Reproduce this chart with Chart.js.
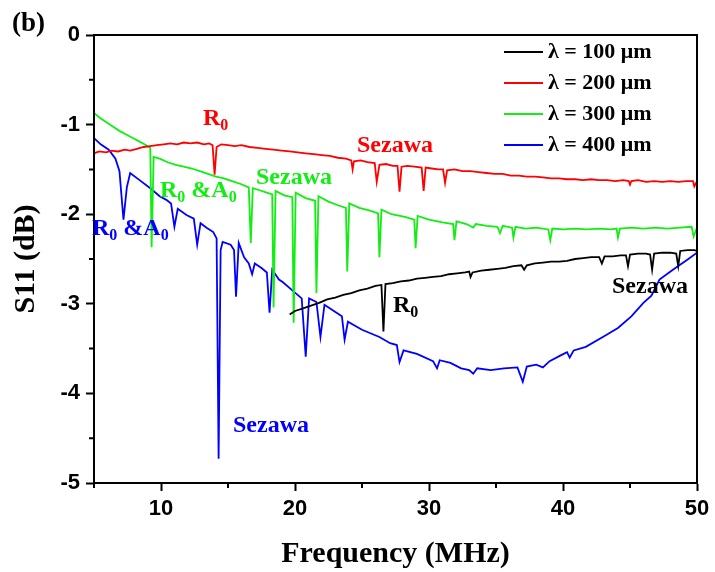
<!DOCTYPE html>
<html>
<head>
<meta charset="utf-8">
<script src="https://cdn.jsdelivr.net/npm/chart.js@4.4.1/dist/chart.umd.min.js"></script>
<style>
  html, body { margin: 0; padding: 0; background: #fff; }
</style>
</head>
<body>
<canvas id="chart" width="715" height="572"></canvas>
<script>
// S11 vs frequency, four wavelengths

const xTicks = [10, 20, 30, 40, 50];
const yTicks = [0, -1, -2, -3, -4, -5];
const xMinor = [5, 15, 25, 35, 45];
const yMinor = [-0.5, -1.5, -2.5, -3.5, -4.5];

const labels = ['λ = 100 μm', 'λ = 200 μm', 'λ = 300 μm', 'λ = 400 μm'];
const colors = ['#000000', '#ff0000', '#11ee11', '#0000ff'];

// λ = 100 μm
const f100 = [19.6,20.0,20.6,21.2,21.8,22.4,23.0,23.6,24.2,24.8,25.4,26.0,26.45,26.6,26.75,27.3,27.9,28.5,29.1,29.7,
  30.3,30.9,31.5,32.1,32.7,33.0,33.1,33.25,33.9,34.5,35.1,35.7,36.3,36.9,37.1,37.3,37.9,38.5,39.1,39.7,
  40.3,40.9,41.5,42.1,42.7,42.9,43.1,43.7,44.3,44.7,44.85,45.0,45.6,46.2,46.5,46.65,46.8,47.4,48.0,48.45,
  48.6,48.75,49.3,49.8,50.0];
const s100 = [-3.12,-3.08,-3.05,-3.02,-2.99,-2.95,-2.93,-2.90,-2.88,-2.85,-2.83,-2.80,-2.79,-3.31,-2.78,-2.77,-2.75,-2.74,-2.72,-2.71,
  -2.70,-2.69,-2.67,-2.66,-2.65,-2.64,-2.70,-2.65,-2.63,-2.62,-2.61,-2.60,-2.58,-2.57,-2.62,-2.57,-2.55,-2.54,-2.53,-2.53,
  -2.52,-2.50,-2.49,-2.48,-2.48,-2.55,-2.47,-2.47,-2.46,-2.46,-2.58,-2.45,-2.44,-2.44,-2.45,-2.62,-2.44,-2.43,-2.43,-2.44,
  -2.58,-2.41,-2.40,-2.40,-2.41];

// λ = 200 μm
const f200 = [5.0,5.4,5.9,6.3,6.8,7.3,7.7,8.2,8.7,9.2,9.7,10.2,10.7,11.2,11.7,12.2,12.7,13.2,13.6,13.85,
  14.0,14.15,14.5,15.0,15.5,16.0,16.6,17.2,17.8,18.4,19.0,19.6,20.2,20.8,21.4,22.0,22.6,23.2,23.8,24.2,
  24.3,24.4,24.9,25.4,25.95,26.1,26.3,26.8,27.3,27.65,27.8,27.95,28.4,28.9,29.45,29.6,29.75,30.2,30.7,31.05,
  31.2,31.35,31.9,32.5,33.1,33.7,34.3,34.9,35.5,36.1,36.7,37.3,37.9,38.5,39.1,39.7,40.3,40.9,41.5,42.1,
  42.7,43.3,43.9,44.5,44.9,45.0,45.1,45.6,46.2,46.8,47.4,48.0,48.6,49.2,49.7,49.8,50.0];
const s200 = [-1.32,-1.30,-1.31,-1.29,-1.30,-1.28,-1.29,-1.27,-1.25,-1.24,-1.23,-1.22,-1.21,-1.22,-1.20,-1.21,-1.20,-1.22,-1.21,-1.23,
  -1.56,-1.25,-1.22,-1.23,-1.24,-1.23,-1.25,-1.26,-1.27,-1.28,-1.29,-1.30,-1.31,-1.32,-1.33,-1.34,-1.35,-1.37,-1.38,-1.40,
  -1.50,-1.41,-1.40,-1.42,-1.43,-1.64,-1.45,-1.44,-1.46,-1.46,-1.75,-1.47,-1.46,-1.47,-1.48,-1.74,-1.48,-1.49,-1.50,-1.50,
  -1.65,-1.51,-1.50,-1.52,-1.52,-1.53,-1.54,-1.55,-1.55,-1.57,-1.57,-1.58,-1.58,-1.59,-1.60,-1.60,-1.61,-1.61,-1.62,-1.61,
  -1.62,-1.62,-1.63,-1.62,-1.63,-1.67,-1.63,-1.62,-1.64,-1.63,-1.64,-1.63,-1.64,-1.63,-1.63,-1.69,-1.63];

// λ = 300 μm
const f300 = [5.0,5.4,5.9,6.4,6.9,7.4,7.9,8.4,8.9,9.2,9.3,9.45,9.9,10.5,11.1,11.7,12.3,12.9,13.5,14.1,
  14.7,15.3,15.9,16.55,16.7,16.85,17.3,17.9,18.3,18.4,18.55,19.2,19.8,19.9,20.05,20.8,21.5,21.6,21.75,22.5,
  23.2,23.8,23.9,24.05,24.8,25.6,26.2,26.3,26.45,27.2,28.2,28.9,29.0,29.15,30.0,31.0,31.8,31.9,32.05,32.8,
  33.3,33.5,34.3,35.1,35.3,35.5,36.2,36.3,36.45,37.2,38.0,38.9,39.05,39.2,40.0,40.9,41.8,42.7,43.6,44.0,
  44.1,44.25,45.1,46.0,46.9,47.8,48.7,49.6,49.75,50.0];
const s300 = [-0.87,-0.92,-0.97,-1.02,-1.07,-1.11,-1.15,-1.19,-1.23,-1.26,-2.37,-1.36,-1.38,-1.42,-1.45,-1.47,-1.49,-1.52,-1.55,-1.58,
  -1.60,-1.63,-1.66,-1.70,-2.32,-1.71,-1.73,-1.76,-1.78,-3.04,-1.74,-1.79,-1.81,-3.21,-1.76,-1.82,-1.85,-2.88,-1.80,-1.86,
  -1.90,-1.93,-2.64,-1.88,-1.93,-1.96,-1.99,-2.48,-1.95,-2.00,-2.03,-2.06,-2.38,-2.02,-2.06,-2.09,-2.11,-2.29,-2.08,-2.11,
  -2.15,-2.11,-2.13,-2.14,-2.21,-2.13,-2.15,-2.26,-2.14,-2.16,-2.15,-2.17,-2.29,-2.16,-2.17,-2.16,-2.17,-2.16,-2.17,-2.16,
  -2.26,-2.16,-2.15,-2.16,-2.15,-2.16,-2.15,-2.14,-2.25,-2.15];

// λ = 400 μm
const f400 = [5.0,5.5,6.1,6.6,6.9,7.2,7.45,7.7,8.4,9.2,9.9,10.4,10.75,11.0,11.25,11.9,12.45,12.7,12.95,13.4,
  13.9,14.15,14.3,14.45,14.6,15.2,15.45,15.6,15.8,16.2,16.55,16.8,17.0,17.5,17.9,18.1,18.3,18.8,19.1,19.8,
  20.5,20.8,21.05,21.6,21.9,22.2,23.1,23.5,23.7,23.95,25.0,26.3,27.1,27.6,27.8,28.1,29.1,30.3,30.6,30.8,
  31.6,32.4,33.0,33.3,33.6,34.6,35.6,36.6,37.0,37.3,38.0,38.5,39.0,39.9,40.3,40.5,40.8,41.7,43.1,44.1,
  45.1,46.0,46.6,47.2,48.2,49.25,50.0];
const s400 = [-1.15,-1.22,-1.28,-1.38,-1.52,-2.06,-1.70,-1.54,-1.62,-1.71,-1.80,-1.84,-1.88,-2.14,-1.94,-2.01,-2.05,-2.34,-2.10,-2.15,
  -2.20,-2.27,-4.73,-2.40,-2.31,-2.34,-2.40,-2.92,-2.32,-2.48,-2.55,-2.67,-2.55,-2.60,-2.65,-3.10,-2.62,-2.73,-2.76,-2.85,
  -2.94,-3.59,-2.94,-2.98,-3.37,-3.01,-3.10,-3.14,-3.40,-3.20,-3.29,-3.37,-3.44,-3.46,-3.65,-3.52,-3.56,-3.64,-3.72,-3.63,
  -3.66,-3.72,-3.74,-3.78,-3.72,-3.74,-3.72,-3.71,-3.87,-3.70,-3.68,-3.71,-3.64,-3.57,-3.54,-3.60,-3.52,-3.48,-3.36,-3.27,
  -3.14,-2.99,-2.91,-2.73,-2.62,-2.51,-2.43];

const freqs = [f100, f200, f300, f400];
const vals = [s100, s200, s300, s400];

const serif = '"Liberation Serif", "Times New Roman", serif';
const sans = '"Liberation Sans", Arial, sans-serif';

// text labels drawn on the plot; '_' marks a subscript run
const notes = [
  { t: [['(b)']], x: 12, y: 24, c: '#000', size: 27 },
  { t: [['R'], ['0', 1]], x: 203, y: 119, c: '#ff0000' },
  { t: [['Sezawa']], x: 357, y: 146, c: '#ff0000' },
  { t: [['Sezawa']], x: 256, y: 178, c: '#11ee11' },
  { t: [['R'], ['0', 1], [' &A'], ['0', 1]], x: 160, y: 191, c: '#11ee11' },
  { t: [['R'], ['0', 1], [' &A'], ['0', 1]], x: 92, y: 229, c: '#0000ff' },
  { t: [['R'], ['0', 1]], x: 393, y: 306, c: '#000' },
  { t: [['Sezawa']], x: 612, y: 287, c: '#000' },
  { t: [['Sezawa']], x: 233, y: 426, c: '#0000ff' },
];

function drawNote(ctx, n) {
  const size = n.size || 24;
  let x = n.x;
  ctx.fillStyle = n.c;
  ctx.textBaseline = 'middle';
  ctx.textAlign = 'left';
  for (const [s, sub] of n.t) {
    const fs = sub ? Math.round(size * 0.68) : size;
    ctx.font = 'bold ' + fs + 'px ' + serif;
    ctx.fillText(s, x, sub ? n.y + 7 : n.y);
    x += ctx.measureText(s).width;
  }
}

const extras = {
  id: 'extras',
  afterDraw(chart) {
    const { ctx, chartArea: a, scales } = chart;
    ctx.save();
    ctx.strokeStyle = '#000';
    ctx.lineWidth = 2;
    ctx.strokeRect(a.left, a.top, a.right - a.left, a.bottom - a.top);
    ctx.beginPath();
    xMinor.forEach(v => {
      const px = scales.x.getPixelForValue(v);
      ctx.moveTo(px, a.bottom); ctx.lineTo(px, a.bottom + 5);
    });
    yMinor.forEach(v => {
      const py = scales.y.getPixelForValue(v);
      ctx.moveTo(a.left, py); ctx.lineTo(a.left - 5, py);
    });
    ctx.stroke();

    // legend
    chart.data.datasets.forEach((ds, i) => {
      const y = 52 + i * 31;
      ctx.strokeStyle = ds.borderColor;
      ctx.lineWidth = 2;
      ctx.beginPath();
      ctx.moveTo(504, y); ctx.lineTo(543, y);
      ctx.stroke();
      ctx.fillStyle = '#000';
      ctx.font = 'bold 22px ' + serif;
      ctx.textBaseline = 'middle';
      ctx.textAlign = 'left';
      ctx.fillText(ds.label, 548, y);
    });

    notes.forEach(n => drawNote(ctx, n));
    ctx.restore();
  }
};

new Chart(document.getElementById('chart'), {
  type: 'line',
  data: {
    datasets: labels.map((l, i) => ({
      label: l,
      data: freqs[i].map((f, j) => ({ x: f, y: vals[i][j] })),
      borderColor: colors[i],
      borderWidth: 1.8,
      pointRadius: 0,
      tension: 0,
      fill: false,
    }))
  },
  options: {
    responsive: false,
    animation: false,
    layout: { padding: { top: 35, right: 18, left: 0, bottom: 0 } },
    plugins: { legend: { display: false }, tooltip: { enabled: false } },
    scales: {
      x: {
        type: 'linear', min: 5, max: 50,
        afterBuildTicks: s => { s.ticks = xTicks.map(v => ({ value: v })); },
        afterFit: s => { s.height = 89; },
        ticks: { color: '#000', padding: 5, font: { family: sans, weight: 'bold', size: 22 } },
        grid: { drawOnChartArea: false, tickLength: 8, tickWidth: 2, tickColor: '#000' },
        border: { color: '#000', width: 2 },
        title: { display: true, text: 'Frequency (MHz)', color: '#000',
          font: { family: serif, weight: 'bold', size: 30 }, padding: { top: 0, bottom: 0 } },
      },
      y: {
        type: 'linear', min: -5, max: 0,
        afterBuildTicks: s => { s.ticks = yTicks.map(v => ({ value: v })); },
        afterFit: s => { s.width = 94; },
        ticks: { color: '#000', padding: 6, font: { family: sans, weight: 'bold', size: 22 } },
        grid: { drawOnChartArea: false, tickLength: 8, tickWidth: 2, tickColor: '#000' },
        border: { color: '#000', width: 2 },
        title: { display: true, text: 'S11 (dB)', color: '#000',
          font: { family: serif, weight: 'bold', size: 30 }, padding: { top: 8, bottom: 0 } },
      }
    }
  },
  plugins: [extras]
});
</script>
</body>
</html>
